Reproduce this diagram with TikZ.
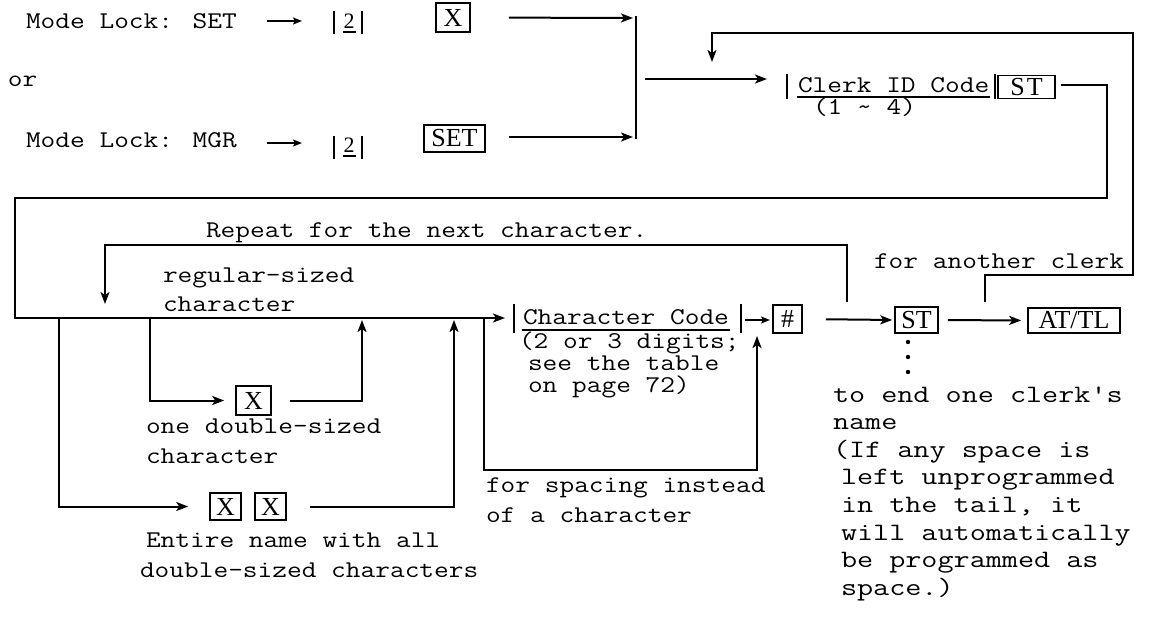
\documentclass[tikz,border=0pt]{standalone}
\usepackage{fontspec}
\usepackage{graphicx}
\usetikzlibrary{arrows.meta}
\newfontfamily\kf{Liberation Serif}
\newcommand{\wtx}[1]{\scalebox{1.19}[1]{#1}}
\newcommand{\wbtx}[1]{\scalebox{1.25}[1]{#1}}
\begin{document}
\begin{tikzpicture}[x=1pt,y=-1pt,line width=2pt,
  arr/.style={-{Stealth[length=12pt,width=9pt,inset=3pt]}},
  sarr/.style={-{Stealth[length=9pt,width=7pt,inset=2pt]}},
  txt/.style={inner sep=0pt,anchor=base west,font=\ttfamily\fontsize{24}{30}\selectfont},
  btxt/.style={inner sep=0pt,anchor=base west,font=\ttfamily\fontsize{25}{30}\selectfont},
  key/.style={draw,line width=1.6pt,inner sep=0pt,font=\kf\fontsize{26}{26}\selectfont},
  digit/.style={inner sep=0pt,anchor=base,font=\kf\fontsize{22}{22}\selectfont},
  bar/.style={line width=1.6pt},
  uline/.style={line width=1.2pt}]
\useasboundingbox (0,0) rectangle (1155,622);

% ---- top rows
\node[txt] (m1) at (25,28) {\wtx{Mode Lock: SET}};
\node[txt] (or) at (7,86) {\wtx{or}};
\node[txt] (m2) at (25,147) {\wtx{Mode Lock: MGR}};
\coordinate (a1s) at (267,21); \coordinate (a1e) at (302,21);
\coordinate (a2s) at (267,143); \coordinate (a2e) at (302,143);
\draw[sarr] (a1s) -- (a1e);
\draw[sarr] (a2s) -- (a2e);

\node[digit] (d2a) at (349,28) {2};
\draw[bar] (334,11) -- (334,34);
\draw[bar] (362,11) -- (362,34);
\draw[uline] (343,32) -- (356,32);
\node[digit] (d2b) at (349,152) {2};
\draw[bar] (334,136) -- (334,159);
\draw[bar] (362,136) -- (362,159);
\draw[uline] (343,156) -- (356,156);

\node[key,minimum width=34pt,minimum height=29pt] (kx1) at (453,17.5) {X};
\node[key,minimum width=61pt,minimum height=27pt] (kset) at (454.5,138.5) {SET};
\coordinate (x1i) at (633,18);
\coordinate (s1i) at (633,137);
\draw[arr,shorten <=38pt] (kx1.east) -- (x1i);
\draw[arr,shorten <=23pt] (kset.east |- s1i) -- (s1i);
\coordinate (jt) at (636,16); \coordinate (jb) at (636,139);
\draw (jt) -- (jb);
\coordinate (mo) at (645,79); \coordinate (mi) at (767,79);
\draw[arr] (mo) -- (mi);

% ---- clerk ID code
\node[txt] (cid) at (797,92) {\wtx{Clerk ID Code}};
\draw[bar] (787,74) -- (787,99);
\draw[bar] (995,74) -- (995,99);
\draw[uline] (797,97) -- (990,97);
\node[txt] (cid2) at (812,114) {\wtx{(1 \textasciitilde{} 4)}};
\node[key,minimum width=57pt,minimum height=23pt] (kst1) at (1026.5,87) {S\hspace{2pt}T};

% ---- return to main line
\coordinate (c1) at (1107,85);
\coordinate (c2) at (1107,198);
\coordinate (c3) at (15,198);
\coordinate (c4) at (15,318);
\coordinate (ccin) at (505,318);
\draw[arr,shorten <=5pt] (kst1.east |- c1) -- (c1) -- (c2) -- (c3) -- (c4) -- (ccin);

% ---- loop for another clerk
\coordinate (t1) at (985,302); \coordinate (t2) at (985,275);
\coordinate (t3) at (1133,275); \coordinate (t4) at (1133,33);
\coordinate (t5) at (712,33); \coordinate (t6) at (712,62);
\draw[arr] (t1) -- (t2) -- (t3) -- (t4) -- (t5) -- (t6);
\node[txt] (fac) at (873,268) {\wtx{for another clerk}};

% ---- repeat loop
\coordinate (r1) at (847,302); \coordinate (r2) at (847,245);
\coordinate (r3) at (105,245); \coordinate (r4) at (105,304);
\draw[arr] (r1) -- (r2) -- (r3) -- (r4);
\node[txt] (rep) at (205,237) {\wtx{Repeat for the next character.}};
\node[txt] (reg1) at (162,282) {\wtx{regular-sized}};
\node[txt] (reg2) at (162,311) {\wtx{character}};

% ---- one double-sized branch
\node[key,minimum width=35pt,minimum height=29pt] (kx2) at (253.5,400.5) {X};
\coordinate (b4) at (150,318); \coordinate (u2) at (362,320);
\draw[arr,shorten >=11pt] (b4) |- (kx2.west);
\draw[arr,shorten <=18pt] (kx2.east) -| (u2);
\node[txt] (od1) at (145,433) {\wtx{one double-sized}};
\node[txt] (od2) at (145,463) {\wtx{character}};

% ---- entire name branch
\node[key,minimum width=31pt,minimum height=27pt] (kxx1) at (225.5,506.5) {X};
\node[key,minimum width=31pt,minimum height=27pt] (kxx2) at (270.5,506.5) {X};
\coordinate (b1) at (59,318); \coordinate (u1) at (454,320);
\draw[arr,shorten >=21pt] (b1) |- (kxx1.west);
\draw[arr,shorten <=23pt] (kxx2.east) -| (u1);
\node[txt] (en1) at (145,547) {\wtx{Entire name with all}};
\node[txt] (en2) at (139,577) {\wtx{double-sized characters}};

% ---- character code
\node[txt] (cc) at (522,324) {\wtx{Character Code}};
\draw[bar] (514,304) -- (514,333);
\draw[bar] (741,304) -- (741,333);
\draw[uline] (522,330) -- (730,330);
\node[txt] (cc1) at (518,348) {\wtx{(2 or 3 digits;}};
\node[txt] (cc2) at (527,370) {\wtx{see the table}};
\node[txt] (cc3) at (527,392) {\wtx{on page 72)}};

% ---- spacing loop
\coordinate (d1) at (484,318); \coordinate (d2) at (757,470); \coordinate (d3) at (757,336);
\draw[arr] (d1) |- (d2) -- (d3);
\node[txt] (sp1) at (485,492) {\wtx{for spacing instead}};
\node[txt] (sp2) at (485,522) {\wtx{of a character}};

% ---- end of line
\coordinate (h1) at (745,320); \coordinate (h2) at (770,320);
\draw[sarr] (h1) -- (h2);
\node[key,minimum width=29pt,minimum height=28pt] (khash) at (787.5,319) {\#};
\node[key,minimum width=43pt,minimum height=26pt] (kst2) at (916.5,320) {ST};
\node[key,minimum width=92pt,minimum height=25pt] (katl) at (1074,320.5) {AT/TL};
\draw[arr,shorten <=23pt,shorten >=2pt] (khash.east) -- (kst2.west);
\draw[arr,shorten <=9pt,shorten >=6pt] (kst2.east) -- (katl.west);
\fill (908,342) circle (2.2pt);
\fill (908,357) circle (2.2pt);
\fill (908,372) circle (2.2pt);

\node[btxt] (e1) at (832,402) {\wbtx{to end one clerk's}};
\node[btxt] (e2) at (832,429.6) {\wbtx{name}};
\node[btxt] (e3) at (832,457.2) {\wbtx{(If any space is}};
\node[btxt] (e4) at (840,484.8) {\wbtx{left unprogrammed}};
\node[btxt] (e5) at (840,512.4) {\wbtx{in the tail, it}};
\node[btxt] (e6) at (840,540) {\wbtx{will automatically}};
\node[btxt] (e7) at (840,567.6) {\wbtx{be programmed as}};
\node[btxt] (e8) at (840,595.2) {\wbtx{space.)}};
\end{tikzpicture}
\end{document}
